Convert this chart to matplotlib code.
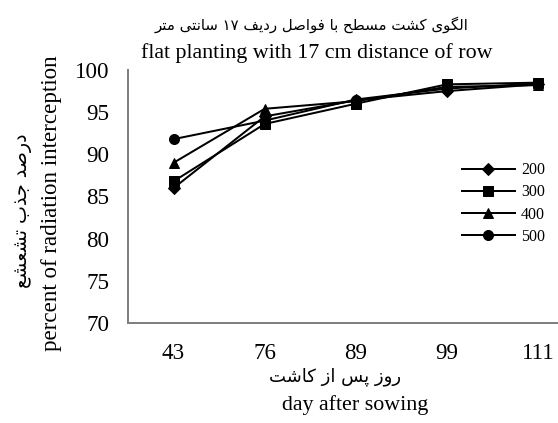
import unicodedata
import matplotlib
matplotlib.use("Agg")
import matplotlib.pyplot as plt

# days after sowing and radiation interception (%) per density
days = ["43", "76", "89", "99", "111"]
d200 = [86.0, 94.5, 96.4, 97.5, 98.3]
d300 = [86.8, 93.6, 96.0, 98.3, 98.5]
d400 = [89.0, 95.4, 96.3, 98.0, 98.2]
d500 = [91.8, 94.0, 96.5, 97.8, 98.4]
series = [("200", d200, "D"), ("300", d300, "s"), ("400", d400, "^"), ("500", d500, "o")]

title_fa = "الگوی کشت مسطح با فواصل ردیف ۱۷ سانتی متر"
title_en = "flat planting with 17 cm distance of row"
ylabel_fa = "درصد جذب تشعشع"
ylabel_en = "percent of radiation interception"
xlabel_fa = "روز پس از کاشت"
xlabel_en = "day after sowing"

RIGHT_ONLY = set("اآأإدذرزژو")


def form(ch, kind):
    try:
        return unicodedata.lookup(unicodedata.name(ch) + " " + kind + " FORM")
    except (KeyError, ValueError):
        return ch


def is_letter(ch):
    return "\u0620" <= ch <= "\u064a" or "\u0671" <= ch <= "\u06d3"


def shape_word(w):
    # pick contextual glyph forms, then reverse for right-to-left display
    out = []
    for i, ch in enumerate(w):
        if not is_letter(ch):
            out.append(ch)
            continue
        prev = w[i - 1] if i > 0 else ""
        nxt = w[i + 1] if i + 1 < len(w) else ""
        pj = bool(prev) and is_letter(prev) and prev not in RIGHT_ONLY
        nj = bool(nxt) and is_letter(nxt) and ch not in RIGHT_ONLY
        if pj and nj:
            out.append(form(ch, "MEDIAL"))
        elif pj:
            out.append(form(ch, "FINAL"))
        elif nj:
            out.append(form(ch, "INITIAL"))
        else:
            out.append(form(ch, "ISOLATED"))
    s = "".join(out)
    if all(c.isdigit() for c in w):
        return s
    return s[::-1]


def fa(text):
    return " ".join(shape_word(w) for w in text.split(" ")[::-1])


serif = ["Liberation Serif", "DejaVu Sans"]
arab = ["DejaVu Sans"]

fig = plt.figure(figsize=(558 / 72, 423 / 72), dpi=72)
ax = fig.add_axes([128 / 558, 100 / 423, 455.6 / 558, 253 / 423])

x = list(range(len(days)))
for name, vals, mk in series:
    ax.plot(x, vals, color="black", lw=2, marker=mk,
            markersize=10 if mk != "D" else 9, label=name, clip_on=False)

ax.set_xlim(-0.5, 4.5)
ax.set_ylim(70, 100)
ax.set_yticks(range(70, 101, 5))
ax.set_xticks(x)
ax.set_xticklabels(days)
ax.tick_params(axis="y", length=0, labelsize=23, pad=19)
ax.tick_params(axis="x", length=0, labelsize=23, pad=20)
for lab in ax.get_xticklabels() + ax.get_yticklabels():
    lab.set_fontfamily(serif)
for s in ["top", "right"]:
    ax.spines[s].set_visible(False)
for s in ["left", "bottom"]:
    ax.spines[s].set_color("#808080")
    ax.spines[s].set_linewidth(2)

leg = ax.legend(loc="upper left", bbox_to_anchor=(0.7185, 0.66), frameon=False,
                prop={"family": serif, "size": 16}, handlelength=3.3,
                labelspacing=0.38, handletextpad=0.4, borderaxespad=0)

fig.text(312 / 558, 1 - 25 / 423, fa(title_fa), family=arab, fontsize=15,
         ha="center", va="center")
fig.text(317 / 558, 1 - 53 / 423, title_en, family=serif, fontsize=22,
         ha="center", va="center")
fig.text(23 / 558, 1 - 211 / 423, fa(ylabel_fa), family=arab, fontsize=19,
         ha="center", va="center", rotation=90)
fig.text(52 / 558, 1 - 203 / 423, ylabel_en, family=serif, fontsize=23,
         ha="center", va="center", rotation=90)
fig.text(335 / 558, 1 - 377 / 423, fa(xlabel_fa), family=arab, fontsize=18,
         ha="center", va="center")
fig.text(355 / 558, 1 - 405 / 423, xlabel_en, family=serif, fontsize=22,
         ha="center", va="center")

fig.savefig("out.png", dpi=72)
